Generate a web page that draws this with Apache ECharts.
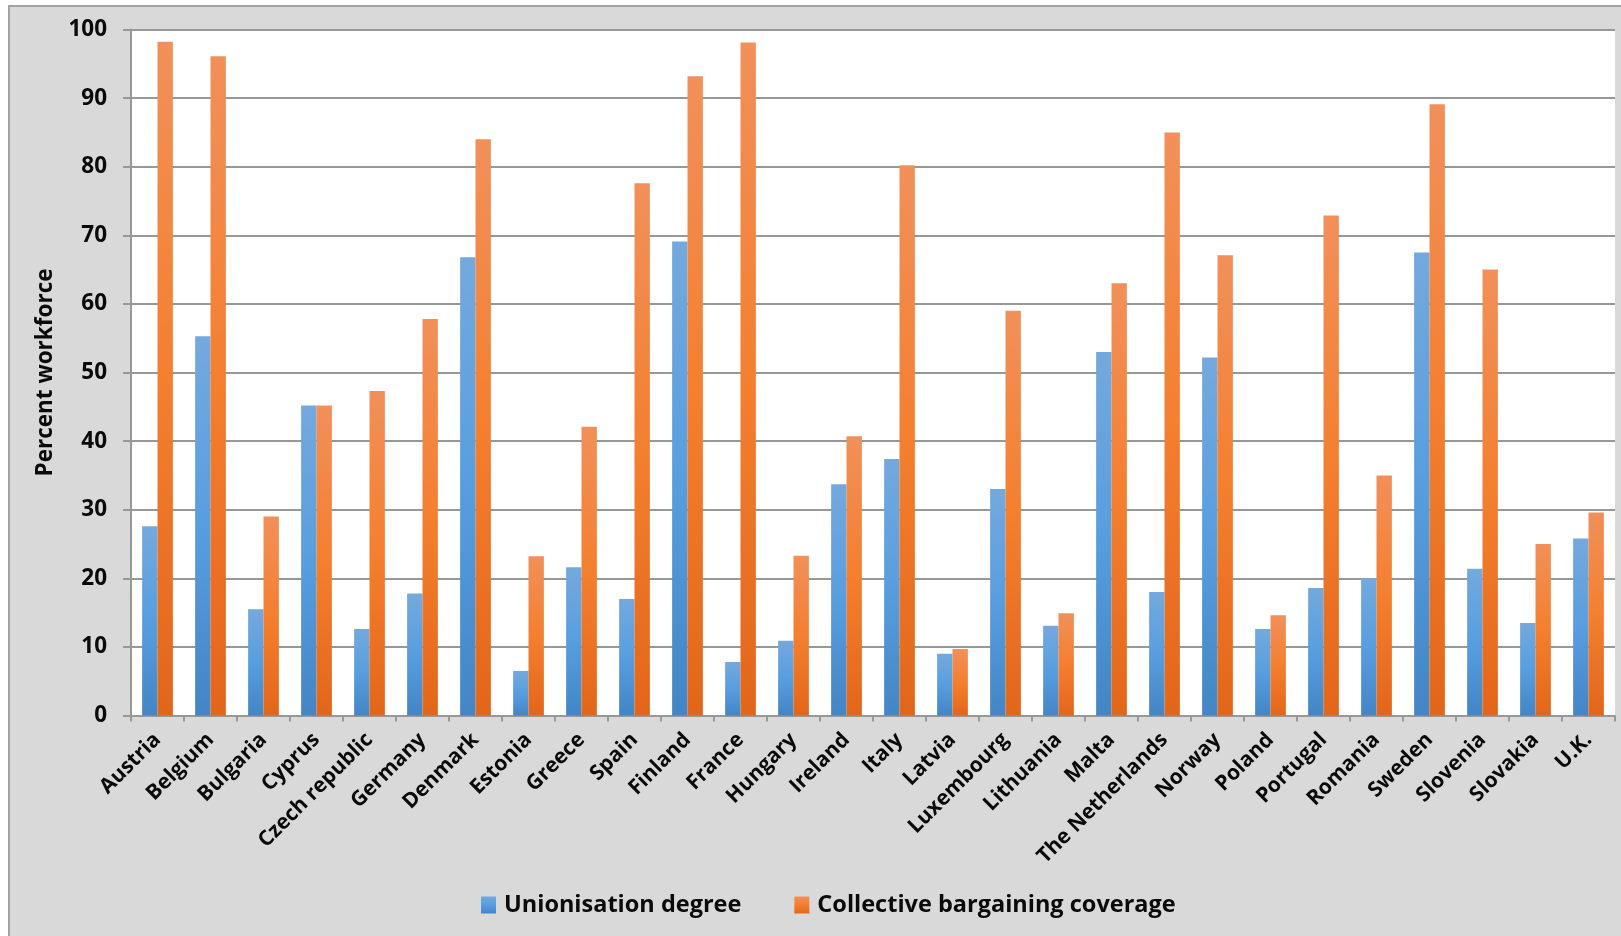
<!DOCTYPE html>
<html>
<head>
<meta charset="utf-8">
<script src="https://cdn.jsdelivr.net/npm/echarts@6/dist/echarts.min.js"></script>
<style>
  html, body { margin: 0; padding: 0; background: #ffffff; }
  #chart { width: 1621px; height: 936px; }
</style>
</head>
<body>
<div id="chart"></div>
<script>
// Union density and collective bargaining coverage by EU country (percent of workforce)
const countries = [
  'Austria', 'Belgium', 'Bulgaria', 'Cyprus', 'Czech republic', 'Germany', 'Denmark',
  'Estonia', 'Greece', 'Spain', 'Finland', 'France', 'Hungary', 'Ireland', 'Italy',
  'Latvia', 'Luxembourg', 'Lithuania', 'Malta', 'The Netherlands', 'Norway', 'Poland',
  'Portugal', 'Romania', 'Sweden', 'Slovenia', 'Slovakia', 'U.K.'
];
const unionisation = [
  27.6, 55.3, 15.5, 45.2, 12.6, 17.8, 66.8,
  6.5, 21.6, 17.0, 69.1, 7.8, 10.9, 33.7, 37.4,
  9.0, 33.0, 13.1, 53.0, 18.0, 52.2, 12.6,
  18.6, 20.0, 67.5, 21.4, 13.5, 25.8
];
const bargaining = [
  98.2, 96.1, 29.0, 45.2, 47.3, 57.8, 84.0,
  23.2, 42.1, 77.6, 93.2, 98.1, 23.3, 40.7, 80.2,
  9.7, 59.0, 14.9, 63.0, 85.0, 67.1, 14.6,
  72.9, 35.0, 89.1, 65.0, 25.0, 29.6
];
const seriesNames = ['Unionisation degree', 'Collective bargaining coverage'];

const FONT = '"Open Sans", Lato, sans-serif';
const TEXT = '#0a0a0a';
const GRID_GRAY = '#989898';

function vgrad(top, mid, bottom) {
  return new echarts.graphic.LinearGradient(0, 0, 0, 1, [
    { offset: 0, color: top },
    { offset: 0.5, color: mid },
    { offset: 1, color: bottom }
  ]);
}
const blueFill = vgrad('#74a9dd', '#589edf', '#4385c5');
const orangeFill = vgrad('#f1905a', '#f47f2f', '#e2661a');

const chart = echarts.init(document.getElementById('chart'), null, { renderer: 'canvas' });

chart.setOption({
  backgroundColor: '#ffffff',
  animation: false,
  graphic: [{
    type: 'rect',
    z: -10,
    silent: true,
    shape: { x: 9, y: 6, width: 1700, height: 1000 },
    style: { fill: '#d9d9d9', stroke: '#a3a3a3', lineWidth: 2 }
  }],
  grid: {
    left: 131, right: 6, top: 29.5, bottom: 220.5,
    show: true, backgroundColor: '#ffffff', borderWidth: 0
  },
  legend: {
    left: 481, top: 893, padding: 0,
    itemWidth: 15, itemHeight: 17, itemGap: 53,
    icon: 'rect',
    textStyle: { fontFamily: FONT, fontWeight: 'bold', fontSize: 23.5, color: TEXT, padding: [0, 0, 0, 3] },
    data: seriesNames
  },
  xAxis: {
    type: 'category',
    data: countries,
    axisLine: { show: true, lineStyle: { color: GRID_GRAY, width: 2 } },
    axisTick: { show: true, length: 6, lineStyle: { color: GRID_GRAY, width: 2 } },
    axisLabel: {
      interval: 0, rotate: 45, margin: 21,
      fontFamily: FONT, fontWeight: 'bold', fontSize: 21, color: TEXT
    }
  },
  yAxis: {
    type: 'value',
    min: 0, max: 100, interval: 10,
    name: 'Percent workforce',
    nameLocation: 'middle',
    nameRotate: 90,
    nameGap: 71,
    nameTextStyle: { fontFamily: FONT, fontWeight: 'bold', fontSize: 22.5, color: TEXT },
    axisLine: { show: true, lineStyle: { color: GRID_GRAY, width: 2 } },
    axisTick: { show: true, inside: false, length: 8, lineStyle: { color: GRID_GRAY, width: 2 } },
    splitLine: { show: true, lineStyle: { color: GRID_GRAY, width: 2 } },
    axisLabel: { margin: 24, fontFamily: FONT, fontWeight: 'bold', fontSize: 22.5, color: TEXT }
  },
  series: [
    {
      name: seriesNames[0], type: 'bar', data: unionisation,
      barGap: '0%', barCategoryGap: '42%',
      itemStyle: { color: blueFill }
    },
    {
      name: seriesNames[1], type: 'bar', data: bargaining,
      barGap: '0%', barCategoryGap: '42%',
      itemStyle: { color: orangeFill }
    }
  ]
});
</script>
</body>
</html>
